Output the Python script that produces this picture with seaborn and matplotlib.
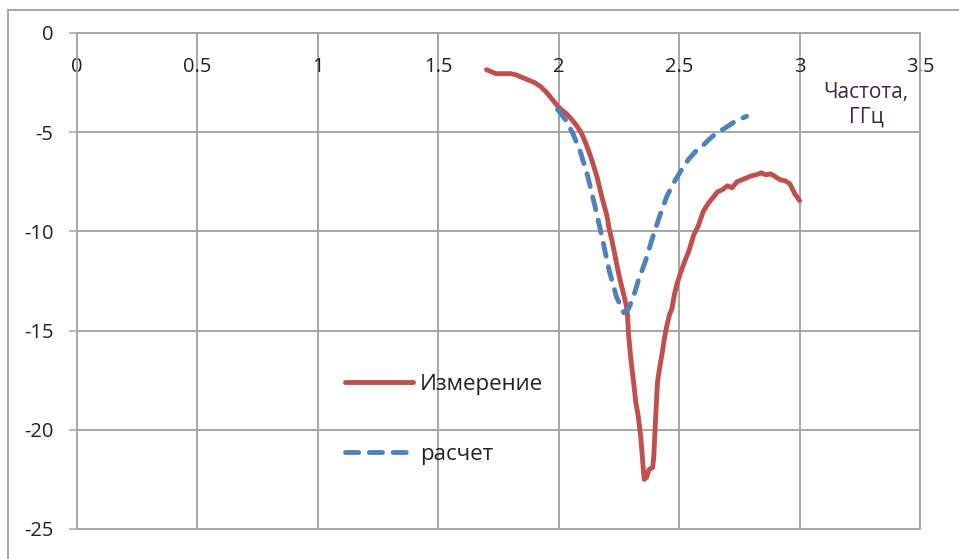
import matplotlib
matplotlib.use("Agg")
import matplotlib.pyplot as plt
import seaborn as sns
import pandas as pd
from matplotlib.patches import Rectangle

# ---- data ----
meas_f = [1.70, 1.72, 1.74, 1.77, 1.80, 1.82, 1.85, 1.87, 1.90, 1.925, 1.95, 1.97, 1.99,
          2.01, 2.03, 2.05, 2.07, 2.09, 2.10, 2.12, 2.14, 2.16, 2.18, 2.20, 2.21, 2.22,
          2.23, 2.24, 2.25, 2.26, 2.27, 2.28, 2.285, 2.29, 2.30, 2.31, 2.32, 2.33, 2.34,
          2.345, 2.35, 2.355, 2.365, 2.375, 2.39, 2.395, 2.40, 2.405, 2.41, 2.42, 2.43,
          2.44, 2.45, 2.46, 2.47, 2.48, 2.49, 2.50, 2.52, 2.54, 2.56, 2.58, 2.60, 2.62,
          2.64, 2.66, 2.68, 2.70, 2.72, 2.74, 2.76, 2.78, 2.80, 2.82, 2.84, 2.86, 2.88,
          2.90, 2.92, 2.94, 2.96, 2.98, 3.00]
meas_db = [-1.85, -1.95, -2.05, -2.05, -2.05, -2.1, -2.25, -2.35, -2.5, -2.7, -3.0, -3.3, -3.6,
           -3.85, -4.05, -4.3, -4.6, -4.95, -5.2, -5.8, -6.5, -7.3, -8.3, -9.2, -9.9, -10.4,
           -11.0, -11.6, -12.2, -12.7, -13.2, -13.7, -14.1, -15.2, -16.5, -17.5, -18.6, -19.3, -20.3,
           -21.0, -21.8, -22.5, -22.4, -22.0, -21.9, -21.3, -20.0, -18.8, -17.6, -16.8, -16.1,
           -15.3, -14.7, -14.2, -13.9, -13.2, -12.7, -12.3, -11.6, -11.0, -10.2, -9.7, -9.0, -8.6,
           -8.3, -8.0, -7.9, -7.7, -7.8, -7.5, -7.4, -7.3, -7.2, -7.15, -7.05, -7.15, -7.1,
           -7.25, -7.4, -7.45, -7.6, -8.1, -8.45]

calc_f = [1.995, 2.03, 2.06, 2.09, 2.12, 2.15, 2.18, 2.21, 2.24, 2.27, 2.29, 2.31, 2.33,
          2.36, 2.39, 2.42, 2.45, 2.48, 2.51, 2.54, 2.57, 2.60, 2.63, 2.66, 2.69, 2.72,
          2.75, 2.78]
calc_db = [-3.85, -4.4, -5.1, -6.0, -7.2, -8.7, -10.3, -12.0, -13.3, -14.1, -13.9, -13.3, -12.5,
           -11.5, -10.3, -9.2, -8.2, -7.5, -6.9, -6.35, -5.95, -5.65, -5.3, -5.0, -4.8, -4.55,
           -4.35, -4.2]

x_ticks = [0, 0.5, 1, 1.5, 2, 2.5, 3, 3.5]
x_tick_labels = ["0", "0.5", "1", "1.5", "2", "2.5", "3", "3.5"]
y_ticks = [0, -5, -10, -15, -20, -25]
y_tick_labels = ["0", "-5", "-10", "-15", "-20", "-25"]
series_names = ["Измерение", "расчет"]
x_title = "Частота,\nГГц"

# ---- style ----
sns.set_style("white")
plt.rcParams['font.family'] = ['Open Sans', 'DejaVu Sans']
GRID = "#a6a6a6"
RED = "#C0504D"
BLUE = "#4F81BD"
TXT = "#222222"

W, H = 959, 559
fig = plt.figure(figsize=(W / 100, H / 100), dpi=100)
ax = fig.add_axes([77 / W, (H - 529) / H, (920 - 77) / W, (529 - 33) / H])

df_m = pd.DataFrame({"f": meas_f, "db": meas_db})
df_c = pd.DataFrame({"f": calc_f, "db": calc_db})

sns.lineplot(data=df_m, x="f", y="db", ax=ax, color=RED, linewidth=3.5,
             estimator=None, sort=False, label=series_names[0],
             solid_capstyle="round", solid_joinstyle="round")
sns.lineplot(data=df_c, x="f", y="db", ax=ax, color=BLUE, linewidth=3.5,
             estimator=None, sort=False, label=series_names[1],
             linestyle=(0, (2.7, 2.2)), dash_capstyle="round")

ax.set_xlim(0, 3.5)
ax.set_ylim(-25, 0)
ax.set_xticks(x_ticks)
ax.set_xticklabels(x_tick_labels)
ax.set_yticks(y_ticks)
ax.set_yticklabels(y_tick_labels)
ax.set_xlabel("")
ax.set_ylabel("")

ax.grid(True, color=GRID, linewidth=1.4)
ax.set_axisbelow(True)
for s in ax.spines.values():
    s.set_visible(True)
    s.set_color(GRID)
    s.set_linewidth(1.4)

ax.xaxis.set_ticks_position("top")
ax.tick_params(axis="x", top=True, bottom=False, labeltop=True, labelbottom=False,
               length=0, pad=-32, labelsize=14.5, labelcolor=TXT)
ax.tick_params(axis="y", left=True, length=6, width=1.1, color=GRID, pad=11,
               labelsize=14.5, labelcolor=TXT)

ax.text(0.936, 0.855, x_title, transform=ax.transAxes, ha="center", va="center",
        fontsize=15, color="#3a2a40", linespacing=1.25)

ax.legend(loc="upper left", bbox_to_anchor=(0.318, 0.312), frameon=False,
          borderpad=0, borderaxespad=0, handlelength=3.06, handletextpad=0.3,
          labelspacing=2.2, fontsize=16, labelcolor=TXT)

# chart-area frame (cut off at right/bottom)
fig.patches.append(Rectangle((8 / W, -0.05), 1.0, 1 - 10 / H + 0.05,
                             transform=fig.transFigure, fill=False,
                             edgecolor=GRID, linewidth=1.4))

fig.savefig("out.png", dpi=100, facecolor="white")
